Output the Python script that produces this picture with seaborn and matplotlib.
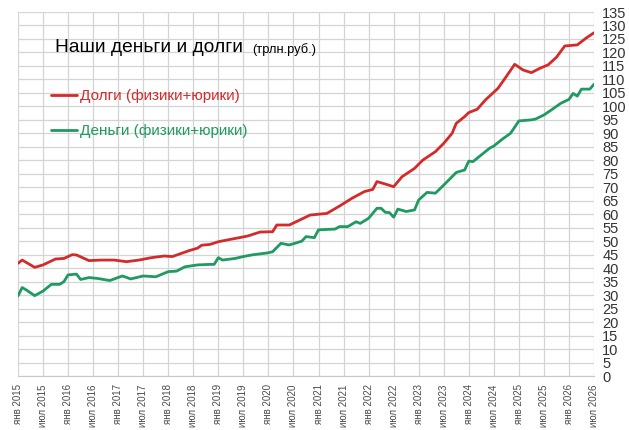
import pandas as pd
import matplotlib
matplotlib.use("Agg")
import matplotlib.pyplot as plt
import seaborn as sns

# months since jan 2015, value in trillion rubles
debt_month = [0, 1, 4, 6, 9, 11, 13, 14, 17, 20, 23, 26, 29, 32, 35, 37, 41, 43, 44, 46,
              48, 52, 55, 58, 61, 62, 65, 70, 74, 77, 80, 83, 85, 86, 88, 90, 92, 95, 97,
              100, 102, 104, 105, 107, 108, 110, 112, 115, 117, 119, 121, 123, 125, 127,
              129, 131, 134, 136, 138]
debt_value = [41.8, 43.0, 40.3, 41.2, 43.4, 43.6, 45.0, 44.9, 42.8, 43.0, 43.0, 42.4, 43.0,
              43.9, 44.5, 44.3, 46.5, 47.4, 48.5, 48.8, 49.8, 51.0, 51.9, 53.4, 53.5, 56.0,
              56.0, 59.7, 60.3, 63.0, 65.9, 68.4, 69.2, 72.1, 71.2, 70.2, 73.9, 77.0, 80.1,
              83.2, 86.3, 90.0, 93.7, 96.2, 97.7, 98.9, 102.4, 106.7, 111.1, 115.6, 113.5,
              112.5, 114.1, 115.4, 118.2, 122.4, 122.8, 125.2, 127.3]

money_month = [0, 1, 2, 4, 6, 8, 10, 11, 12, 14, 15, 17, 19, 22, 25, 27, 30, 33, 36, 38, 40,
               43, 46, 47, 48, 49, 52, 54, 56, 60, 61, 63, 65, 68, 69, 71, 72, 76, 77, 79,
               81, 82, 84, 86, 87, 88, 89, 90, 91, 93, 95, 96, 98, 100, 102, 105, 107, 108,
               109, 111, 113, 114, 116, 118, 120, 123, 124, 126, 128, 130, 132, 133, 134,
               135, 137, 138]
money_value = [29.7, 32.8, 31.9, 29.8, 31.5, 34.0, 34.0, 35.0, 37.5, 37.8, 35.8, 36.5, 36.2,
               35.4, 37.1, 36.0, 37.1, 36.8, 38.7, 38.9, 40.5, 41.2, 41.4, 41.4, 43.9, 43.0,
               43.6, 44.3, 44.9, 45.7, 46.1, 49.2, 48.6, 50.0, 51.7, 51.3, 54.2, 54.5, 55.4,
               55.4, 57.2, 56.6, 58.5, 62.2, 62.2, 60.7, 60.6, 58.9, 61.9, 61.0, 61.6, 65.3,
               68.1, 67.8, 70.8, 75.5, 76.4, 79.7, 79.5, 82.0, 84.5, 85.3, 87.8, 90.0, 94.6,
               95.0, 95.3, 96.8, 98.9, 101.1, 102.6, 104.8, 103.8, 106.4, 106.4, 108.2]

tick_labels = []
for year in range(2015, 2027):
    tick_labels += [f"янв {year}", f"июл {year}"]

debt_name = "Долги (физики+юрики)"
money_name = "Деньги (физики+юрики)"
red = "#d42a2a"
green = "#1f9a60"

df = pd.concat([
    pd.DataFrame({"month": debt_month, "value": debt_value, "series": debt_name}),
    pd.DataFrame({"month": money_month, "value": money_value, "series": money_name}),
])

sns.set_style("white")
plt.rcParams["font.family"] = ["Liberation Sans", "DejaVu Sans"]

fig = plt.figure(figsize=(6.29, 4.30), dpi=100)
ax = fig.add_axes([18 / 629, 1 - 376 / 430, (594 - 18) / 629, (376 - 12) / 430])

sns.lineplot(data=df, x="month", y="value", hue="series",
             palette={debt_name: red, money_name: green}, linewidth=2.0, ax=ax)

ax.set_xlim(0, 138)
ax.set_ylim(0, 135)
ax.set_xticks(range(0, 139, 6))
ax.set_xticklabels(tick_labels, rotation=90, fontsize=7, color="#4a4a4a")
ax.set_yticks(range(0, 136, 5))
ax.yaxis.tick_right()
ax.tick_params(axis="y", labelsize=10.5, colors="#333333", length=0, pad=6)
ax.tick_params(axis="x", length=0, pad=6)
ax.set_xlabel("")
ax.set_ylabel("")
ax.grid(True, color="#d4d4d4", linewidth=0.9)
ax.set_axisbelow(True)
for side in ["top", "right", "left"]:
    ax.spines[side].set_visible(False)
ax.spines["bottom"].set_color("#c8c8c8")

leg = ax.legend(loc="upper left", bbox_to_anchor=(0.034, 0.826), frameon=False,
                fontsize=11, handlelength=1.65, handletextpad=0.2, labelspacing=1.4)
for text, col in zip(leg.get_texts(), [red, green]):
    text.set_color(col)
for line in leg.get_lines():
    line.set_linewidth(2.0)

title = ax.text(0.064, 0.89, "Наши деньги и долги", transform=ax.transAxes,
                fontsize=13.8, color="black")
ax.annotate("(трлн.руб.)", xy=(1, 0), xycoords=title, xytext=(7, 0),
            textcoords="offset points", fontsize=9.3, color="black", va="bottom")

fig.savefig("out.png", dpi=100, facecolor="white")
